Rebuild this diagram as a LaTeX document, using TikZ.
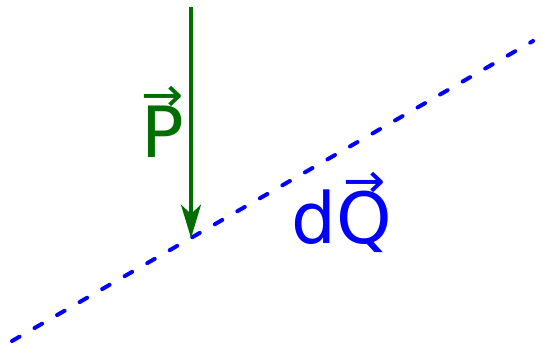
\documentclass[tikz,border=0pt]{standalone}
\usepackage{fontspec}
\setmainfont{DejaVu Sans}
\usetikzlibrary{arrows.meta,positioning}
\definecolor{forcegreen}{RGB}{0,110,0}
\definecolor{surfblue}{RGB}{0,0,255}
\newcommand{\vecarrow}[1]{\leavevmode\hbox{\ooalign{#1\cr\hidewidth\raisebox{0.64em}{\fontsize{36}{36}\selectfont\scalebox{1.05}[1]{→}}\hidewidth\cr}}}

\begin{document}
\begin{tikzpicture}[
x=0.75pt,y=-0.75pt,
force/.style={draw=forcegreen, line width=2.8pt, -{Stealth[length=25pt,width=15pt,inset=7pt]}},
surface/.style={draw=surfblue, line width=3pt, line cap=round, dash pattern=on 6.5pt off 13pt},
lbl/.style={inner sep=0pt, font=\fontsize{53}{58}\selectfont}
]
\useasboundingbox (0,0) rectangle (542,347);
\coordinate (surfA) at (12,341);
\coordinate (surfB) at (533,41);
\coordinate (ftop) at (191,7);
\coordinate (ffoot) at (191,238);
\draw[surface] (surfA) -- (surfB);
\draw[force] (ftop) -- (ffoot);
\node[lbl, text=forcegreen, anchor=base] (plabel) at (163,157) {\vecarrow{P}};
\node[lbl, text=surfblue, anchor=base] (qlabel) at (342,243) {d\vecarrow{Q}};
\end{tikzpicture}
\end{document}
